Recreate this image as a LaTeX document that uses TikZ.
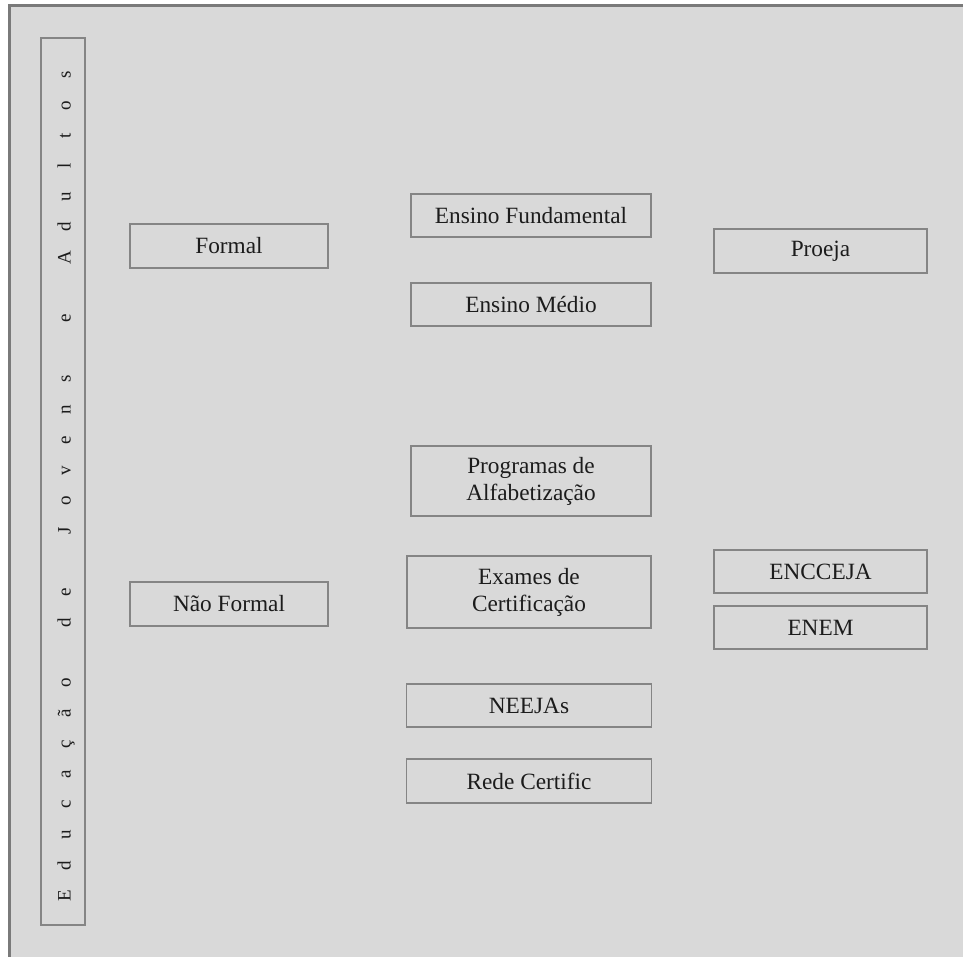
\documentclass[tikz,border=0pt]{standalone}
\usepackage{fontspec}
\setmainfont{Liberation Serif}
\newcommand{\spch}[1]{\makebox[30.4pt][c]{#1}}
\begin{document}
\begin{tikzpicture}[x=1pt,y=-1pt,
  box/.style={draw=boxgray,line width=1.3pt,inner sep=0pt,align=center,
    font=\fontsize{23.3}{27}\selectfont,text=textc},
  wbox/.style={box,minimum width=#1},
]
\definecolor{bg}{HTML}{D9D9D9}
\definecolor{frame}{HTML}{7A7A7A}
\definecolor{boxgray}{HTML}{858585}
\definecolor{textc}{HTML}{1C1C1C}
\useasboundingbox (0,0) rectangle (963,957);
\fill[white] (0,0) rectangle (963,957);
\fill[bg] (8,4) rectangle (963,957);
\draw[frame,line width=3pt] (9.5,957) -- (9.5,5.5) -- (963,5.5);

% vertical title box
\node[draw=boxgray,line width=1.3pt,minimum width=44pt,minimum height=887pt,inner sep=0pt] (vbox) at (63,481.5) {};
\node[rotate=90,inner sep=0pt,text=textc,font=\fontsize{19}{22}\selectfont] (title) at (66,485.5)
 {\spch{E}\spch{d}\spch{u}\spch{c}\spch{a}\spch{ç}\spch{ã}\spch{o}\spch{~}\spch{d}\spch{e}\spch{~}\spch{J}\spch{o}\spch{v}\spch{e}\spch{n}\spch{s}\spch{~}\spch{e}\spch{~}\spch{A}\spch{d}\spch{u}\spch{l}\spch{t}\spch{o}\spch{s}};

% left column
\node[wbox=198pt,minimum height=44pt] (formal) at (229,246) {Formal};
\node[wbox=198pt,minimum height=44pt] (naoformal) at (229,604) {Não Formal};

% middle column
\node[wbox=240pt,minimum height=43pt] (ef) at (531,215.5) {Ensino Fundamental};
\node[wbox=240pt,minimum height=43pt] (em) at (531,304.5) {Ensino Médio};
\node[wbox=240pt,minimum height=70pt] (prog) at (531,481) {Programas de\\Alfabetização};
\node[wbox=244pt,minimum height=72pt] (exames) at (529,592) {Exames de\\Certificação};
\node[wbox=245pt,minimum height=43pt] (neejas) at (529,705.5) {NEEJAs};
\node[wbox=245pt,minimum height=44pt] (rede) at (529,781) {Rede Certific};

% right column
\node[wbox=213pt,minimum height=44pt] (proeja) at (820.5,251) {Proeja};
\node[wbox=213pt,minimum height=43pt] (encceja) at (820.5,571.5) {ENCCEJA};
\node[wbox=213pt,minimum height=43pt] (enem) at (820.5,627.5) {ENEM};
\end{tikzpicture}
\end{document}
